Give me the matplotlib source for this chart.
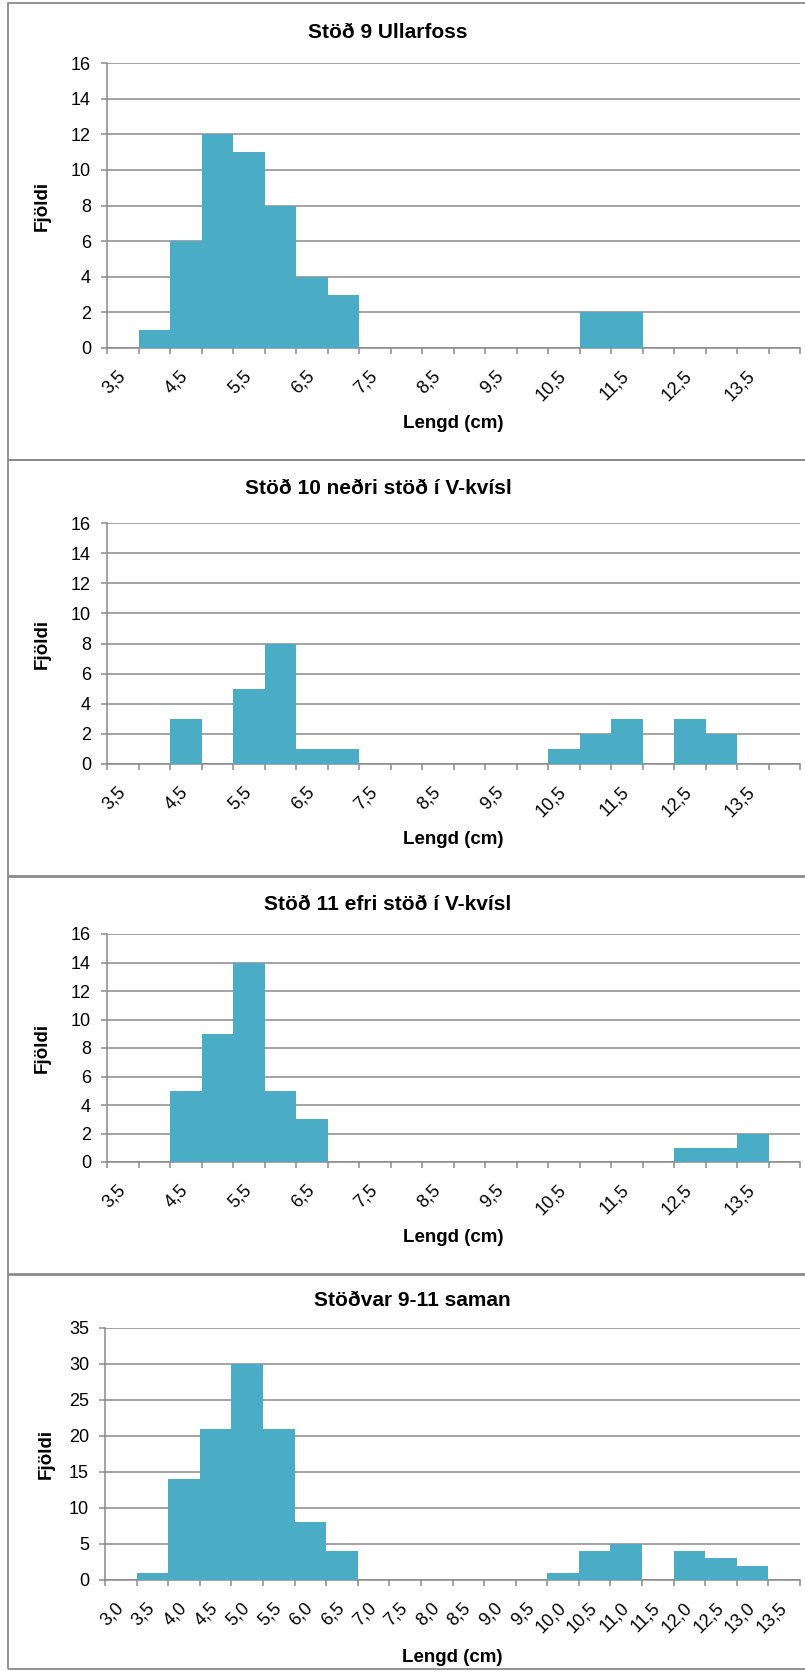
import matplotlib
matplotlib.use("Agg")
import matplotlib.pyplot as plt
from matplotlib.transforms import ScaledTranslation
from matplotlib.patches import Rectangle

plt.rcParams['font.family'] = ['Liberation Sans', 'DejaVu Sans']

# ---- data ----
labels_st = ['3,5', '4,0', '4,5', '5,0', '5,5', '6,0', '6,5', '7,0', '7,5', '8,0', '8,5',
             '9,0', '9,5', '10,0', '10,5', '11,0', '11,5', '12,0', '12,5', '13,0', '13,5', '14,0']
labels_all = ['3,0', '3,5', '4,0', '4,5', '5,0', '5,5', '6,0', '6,5', '7,0', '7,5', '8,0',
              '8,5', '9,0', '9,5', '10,0', '10,5', '11,0', '11,5', '12,0', '12,5', '13,0', '13,5']
st9 = [0, 1, 6, 12, 11, 8, 4, 3, 0, 0, 0, 0, 0, 0, 0, 2, 2, 0, 0, 0, 0, 0]
st10 = [0, 0, 3, 0, 5, 8, 1, 1, 0, 0, 0, 0, 0, 0, 1, 2, 3, 0, 3, 2, 0, 0]
st11 = [0, 0, 5, 9, 14, 5, 3, 0, 0, 0, 0, 0, 0, 0, 0, 0, 0, 0, 1, 1, 2, 0]
total = [0, 1, 14, 21, 30, 21, 8, 4, 0, 0, 0, 0, 0, 0, 1, 4, 5, 0, 4, 3, 2, 0]
titles = ['Stöð 9 Ullarfoss', 'Stöð 10 neðri stöð í V-kvísl',
          'Stöð 11 efri stöð í V-kvísl', 'Stöðvar 9-11 saman']

W, H = 805, 1671
fig = plt.figure(figsize=(W / 100, H / 100), dpi=100)

BAR = '#4BACC6'
GRID = '#8a8a8a'


def fx(x):
    return x / W


def fy(y):
    return 1 - y / H


# panel frames (pixel coords: top, bottom)
frames = [(3, 459.5), (460, 876), (876.5, 1273.5), (1275, 1669)]
for (t, b) in frames:
    fig.patches.append(Rectangle((fx(8), fy(b)), fx(820) - fx(8), fy(t) - fy(b),
                                 transform=fig.transFigure, fill=False,
                                 edgecolor=GRID, linewidth=1.3))

panels = [
    dict(l=107, r=800, t=63, b=348, ymax=16, step=2, data=st9, labels=labels_st, every=2,
         tx=388, ty=33, ly=423, yl=42),
    dict(l=107, r=800, t=523, b=764, ymax=16, step=2, data=st10, labels=labels_st, every=2,
         tx=378, ty=488, ly=840, yl=42),
    dict(l=107, r=800, t=934, b=1162, ymax=16, step=2, data=st11, labels=labels_st, every=2,
         tx=388, ty=905, ly=1237, yl=42),
    dict(l=105, r=800, t=1328, b=1580, ymax=35, step=5, data=total, labels=labels_all, every=1,
         tx=412, ty=1300, ly=1657, yl=46),
]

for p, title in zip(panels, titles):
    ax = fig.add_axes([fx(p['l']), fy(p['b']), fx(p['r']) - fx(p['l']), fy(p['t']) - fy(p['b'])])
    n = len(p['data'])
    xs = list(range(n))
    ax.bar(xs, p['data'], width=1.0, color=BAR, edgecolor='none', zorder=3)
    ax.set_xlim(-0.5, n - 0.5)
    ax.set_ylim(0, p['ymax'])
    yt = list(range(0, p['ymax'] + 1, p['step']))
    ax.set_yticks(yt)
    ax.set_yticklabels([str(v) for v in yt], fontsize=13)
    ax.yaxis.grid(True, color=GRID, linewidth=1.1, zorder=0)
    ax.set_axisbelow(True)
    for s in ['top', 'right']:
        ax.spines[s].set_visible(False)
    for s in ['left', 'bottom']:
        ax.spines[s].set_color(GRID)
        ax.spines[s].set_linewidth(1.1)
    ax.tick_params(axis='y', length=4.5, width=1.1, color=GRID, pad=7)
    ax.set_xticks(xs)
    shown = [lab if i % p['every'] == 0 else '' for i, lab in enumerate(p['labels'])]
    ax.set_xticklabels(shown, rotation=45, ha='right', va='top', fontsize=13)
    ax.tick_params(axis='x', which='major', length=0, pad=14)
    ax.set_xticks([i - 0.5 for i in range(n + 1)], minor=True)
    ax.tick_params(axis='x', which='minor', length=4, width=1.1, color=GRID)
    off = ScaledTranslation(6 / 100, 0, fig.dpi_scale_trans)
    for lab in ax.get_xticklabels():
        lab.set_transform(lab.get_transform() + off)
    fig.text(fx(p['tx']), fy(p['ty']), title, ha='center', va='center',
             fontsize=15, fontweight='bold')
    fig.text(fx((p['l'] + p['r']) / 2), fy(p['ly']), 'Lengd (cm)', ha='center', va='center',
             fontsize=13.5, fontweight='bold')
    fig.text(fx(p['yl']), fy((p['t'] + p['b']) / 2), 'Fjöldi', ha='center', va='center',
             rotation=90, fontsize=13.5, fontweight='bold')

fig.savefig('out.png', dpi=100)
